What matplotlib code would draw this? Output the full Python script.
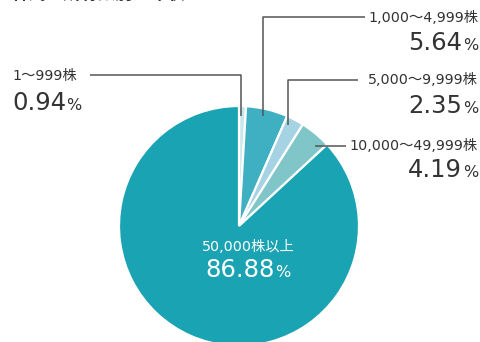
import matplotlib
matplotlib.use("Agg")
import matplotlib.pyplot as plt

plt.rcParams['font.family'] = ['DejaVu Sans', 'Noto Sans CJK JP']

# shareholding distribution (percent of shares)
labels = ['1〜999株', '1,000〜4,999株', '5,000〜9,999株', '10,000〜49,999株', '50,000株以上']
shares = [0.94, 5.64, 2.35, 4.19, 86.88]
colors = ['#c8e8ee', '#3fb0c1', '#a5d3e3', '#80c6c9', '#1aa3b3']

W, H = 481, 342


def yy(y):
    # image pixel row -> data y (axis runs bottom-up)
    return H - y


fig = plt.figure(figsize=(W / 100, H / 100), dpi=100)
ax = fig.add_axes([0, 0, 1, 1])
ax.pie(shares, colors=colors, startangle=90, counterclock=False,
       center=(239, yy(226)), radius=120, frame=True,
       wedgeprops=dict(edgecolor='white', linewidth=1.6))
ax.set_xlim(0, W)
ax.set_ylim(0, H)
ax.set_aspect('auto')
ax.axis('off')

lc = '#555555'
# leader lines (image pixel coordinates)
leaders = [
    [(90, 75), (241, 75), (241, 116)],
    [(365, 17), (263, 17), (263, 116)],
    [(358, 80), (288, 80), (288, 125)],
    [(346, 146), (315, 146)],
]
for pts in leaders:
    ax.plot([p[0] for p in pts], [yy(p[1]) for p in pts], color=lc, lw=1.1,
            solid_capstyle='butt')

fig.canvas.draw()
rend = fig.canvas.get_renderer()

# cut-off heading at the very top
hf = ['Noto Sans CJK JP', 'DejaVu Sans']
sq = ax.text(-6, yy(-6), '■', fontsize=13, color='#2e9fd0', va='center',
             ha='left', family=hf)
bb = sq.get_window_extent(renderer=rend)
ax.text(bb.x1, yy(-6), '株式の所有数別分布状況', fontsize=12.5, fontweight='bold',
        color='#333333', va='center', ha='left', family=hf)

BIG = 17.5
SMALL = 11.5
LAB = 10.3
TXT = '#333333'


def pct(x_right, y, value, color=TXT):
    t = ax.text(x_right, yy(y), '%', fontsize=SMALL, color=color,
                ha='right', va='baseline')
    bb = t.get_window_extent(renderer=rend)
    ax.text(bb.x0 - 0.5, yy(y), '%.2f' % value, fontsize=BIG,
            color=color, ha='right', va='baseline')


# left label
ax.text(12, yy(76), labels[0], fontsize=LAB, color=TXT, ha='left', va='center')
t = ax.text(12, yy(110), '%.2f' % shares[0], fontsize=BIG, color=TXT,
            ha='left', va='baseline')
bb = t.get_window_extent(renderer=rend)
ax.text(bb.x1 + 0.5, yy(110), '%', fontsize=SMALL, color=TXT,
        ha='left', va='baseline')

# right labels
for lab, val, ly, py in [(labels[1], shares[1], 18, 50),
                         (labels[2], shares[2], 80, 113),
                         (labels[3], shares[3], 146, 177)]:
    ax.text(478, yy(ly), lab, fontsize=LAB, color=TXT, ha='right', va='center')
    pct(478, py, val)

# centre label
ax.text(248, yy(247), labels[4], fontsize=LAB, color='white', ha='center', va='center')
t = ax.text(248, yy(277), '%.2f' % shares[4], fontsize=BIG, color='white',
            ha='center', va='baseline')
bb = t.get_window_extent(renderer=rend)
t.set_x(248 - 8)
ax.text(248 - 8 + (bb.x1 - bb.x0) / 2 + 0.5, yy(277), '%', fontsize=SMALL,
        color='white', ha='left', va='baseline')

fig.savefig('out.png', dpi=100)
